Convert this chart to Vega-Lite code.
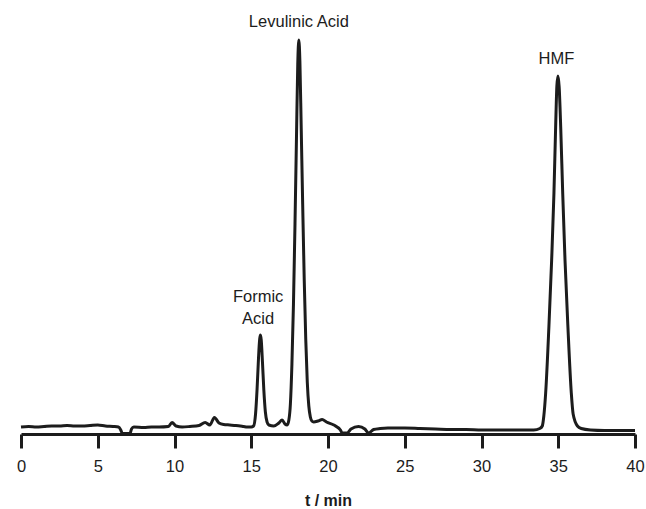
{
  "$schema": "https://vega.github.io/schema/vega-lite/v6.json",
  "autosize": "none",
  "width": 614,
  "height": 434,
  "padding": {"left": 21, "top": 0, "right": 11, "bottom": 75},
  "background": "white",
  "config": {
    "view": {"stroke": null},
    "font": "Liberation Sans"
  },
  "datasets": {
    "trace": [
      {"t": 0.0, "v": 7}, {"t": 0.5, "v": 7.5}, {"t": 1.0, "v": 7}, {"t": 1.5, "v": 7.5},
      {"t": 2.0, "v": 8}, {"t": 2.5, "v": 8}, {"t": 3.0, "v": 8.5}, {"t": 3.5, "v": 8},
      {"t": 4.0, "v": 8}, {"t": 4.5, "v": 8.5}, {"t": 5.0, "v": 9}, {"t": 5.5, "v": 8},
      {"t": 6.0, "v": 7.5}, {"t": 6.35, "v": 7}, {"t": 6.5, "v": 4}, {"t": 6.6, "v": 0.5},
      {"t": 7.1, "v": 0.5}, {"t": 7.2, "v": 5}, {"t": 7.35, "v": 7}, {"t": 8.0, "v": 6.5},
      {"t": 8.5, "v": 7}, {"t": 9.0, "v": 7}, {"t": 9.6, "v": 7.5}, {"t": 9.84, "v": 11.5},
      {"t": 10.1, "v": 8}, {"t": 10.5, "v": 7}, {"t": 11.0, "v": 7.5}, {"t": 11.6, "v": 8.5},
      {"t": 12.0, "v": 11.5}, {"t": 12.3, "v": 9}, {"t": 12.6, "v": 16.5}, {"t": 12.9, "v": 11},
      {"t": 13.2, "v": 9.5}, {"t": 13.6, "v": 9}, {"t": 14.0, "v": 8.5}, {"t": 14.5, "v": 7.5},
      {"t": 14.73, "v": 7}, {"t": 15.0, "v": 7}, {"t": 15.15, "v": 8}, {"t": 15.28, "v": 20},
      {"t": 15.38, "v": 45}, {"t": 15.47, "v": 75}, {"t": 15.55, "v": 95}, {"t": 15.6, "v": 99},
      {"t": 15.65, "v": 94}, {"t": 15.73, "v": 72}, {"t": 15.82, "v": 44}, {"t": 15.92, "v": 22},
      {"t": 16.03, "v": 12}, {"t": 16.15, "v": 9}, {"t": 16.47, "v": 8}, {"t": 16.8, "v": 11},
      {"t": 17.01, "v": 14}, {"t": 17.2, "v": 10}, {"t": 17.34, "v": 9}, {"t": 17.45, "v": 14},
      {"t": 17.55, "v": 30}, {"t": 17.65, "v": 70}, {"t": 17.75, "v": 130}, {"t": 17.85, "v": 210},
      {"t": 17.95, "v": 300}, {"t": 18.03, "v": 370}, {"t": 18.1, "v": 394}, {"t": 18.17, "v": 372},
      {"t": 18.25, "v": 310}, {"t": 18.35, "v": 230}, {"t": 18.45, "v": 155}, {"t": 18.55, "v": 95},
      {"t": 18.65, "v": 52}, {"t": 18.75, "v": 28}, {"t": 18.85, "v": 17}, {"t": 18.95, "v": 13},
      {"t": 19.07, "v": 12}, {"t": 19.35, "v": 13}, {"t": 19.62, "v": 14.5}, {"t": 19.9, "v": 12},
      {"t": 20.38, "v": 9}, {"t": 20.81, "v": 4}, {"t": 20.93, "v": 1}, {"t": 21.25, "v": 1},
      {"t": 21.5, "v": 5}, {"t": 21.99, "v": 7.5}, {"t": 22.4, "v": 5}, {"t": 22.64, "v": 1},
      {"t": 22.97, "v": 4.5}, {"t": 23.4, "v": 5.5}, {"t": 23.9, "v": 6}, {"t": 25.0, "v": 6},
      {"t": 26.0, "v": 5.5}, {"t": 27.0, "v": 5}, {"t": 28.0, "v": 4.5}, {"t": 29.0, "v": 4.5},
      {"t": 30.0, "v": 4}, {"t": 31.0, "v": 4}, {"t": 32.0, "v": 4}, {"t": 33.0, "v": 4},
      {"t": 33.4, "v": 4}, {"t": 33.8, "v": 5.5}, {"t": 33.96, "v": 8}, {"t": 34.06, "v": 18},
      {"t": 34.18, "v": 41}, {"t": 34.39, "v": 107}, {"t": 34.57, "v": 174}, {"t": 34.72, "v": 241},
      {"t": 34.83, "v": 307}, {"t": 34.91, "v": 348}, {"t": 34.98, "v": 358}, {"t": 35.06, "v": 347},
      {"t": 35.16, "v": 307}, {"t": 35.29, "v": 241}, {"t": 35.44, "v": 174}, {"t": 35.63, "v": 107},
      {"t": 35.85, "v": 41}, {"t": 35.97, "v": 20}, {"t": 36.25, "v": 8}, {"t": 36.5, "v": 5.5},
      {"t": 37.1, "v": 4}, {"t": 38.0, "v": 3.5}, {"t": 39.0, "v": 3.5}, {"t": 40.0, "v": 3.5}
    ],
    "labels": [
      {"t": 18.1, "v": 407, "label": "Levulinic Acid"},
      {"t": 34.88, "v": 370, "label": "HMF"},
      {"t": 15.45, "v": 132, "label": "Formic"},
      {"t": 15.45, "v": 110.5, "label": "Acid"}
    ]
  },
  "layer": [
    {
      "data": {"name": "trace"},
      "mark": {"type": "line", "color": "#1c1c1c", "strokeWidth": 3, "strokeJoin": "round", "interpolate": "monotone"},
      "encoding": {
        "x": {
          "field": "t",
          "type": "quantitative",
          "scale": {"domain": [0, 40], "nice": false, "zero": false},
          "axis": {
            "values": [0, 5, 10, 15, 20, 25, 30, 35, 40],
            "grid": false,
            "labelFlush": false,
            "labelOverlap": false,
            "domainColor": "#1c1c1c",
            "domainWidth": 3,
            "tickColor": "#1c1c1c",
            "tickWidth": 3,
            "tickSize": 14,
            "labelFontSize": 16.5,
            "labelColor": "#1c1c1c",
            "labelPadding": 10,
            "labelFont": "Liberation Sans",
            "title": "t / min",
            "titleFont": "Liberation Sans",
            "titleFontSize": 16,
            "titleFontWeight": "bold",
            "titleColor": "#1c1c1c",
            "titlePadding": 18
          }
        },
        "y": {
          "field": "v",
          "type": "quantitative",
          "scale": {"domain": [0, 434], "nice": false},
          "axis": null
        }
      }
    },
    {
      "data": {"name": "labels"},
      "mark": {"type": "text", "align": "center", "baseline": "alphabetic", "font": "Liberation Sans", "fontSize": 16.5, "color": "#1c1c1c"},
      "encoding": {
        "x": {"field": "t", "type": "quantitative"},
        "y": {"field": "v", "type": "quantitative"},
        "text": {"field": "label"}
      }
    }
  ]
}
